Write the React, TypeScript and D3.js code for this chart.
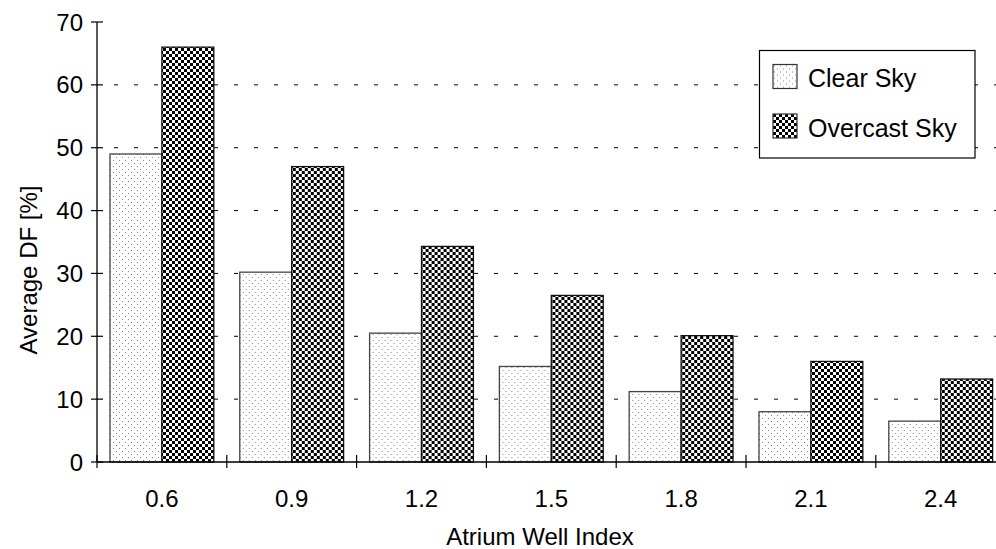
import React from "react";
import * as d3 from "d3";

// Average daylight factor by atrium well index, clear vs overcast sky
const categories = ["0.6", "0.9", "1.2", "1.5", "1.8", "2.1", "2.4"];
const clearSky = [49.0, 30.2, 20.5, 15.2, 11.2, 8.0, 6.5];
const overcastSky = [66.0, 47.0, 34.3, 26.5, 20.1, 16.0, 13.2];
const yTicks = [0, 10, 20, 30, 40, 50, 60, 70];
const gridTicks = [10, 20, 30, 40, 50, 60];
const seriesNames = ["Clear Sky", "Overcast Sky"];

const W = 996;
const H = 549;
const FONT = "'Liberation Sans', Arial, Helvetica, sans-serif";

export default function App() {
  const left = 97;
  const top = 22;
  const bottom = 462;
  const right = 1005.6;

  const x = d3.scaleBand<string>().domain(categories).range([left, right]).paddingInner(0).paddingOuter(0);
  const bw = x.bandwidth();
  const inner = d3.scaleBand<string>().domain(seriesNames).range([0, bw]).paddingInner(0).paddingOuter(0.25);
  const y = d3.scaleLinear().domain([0, 70]).range([bottom, top]);

  const fills = ["url(#dots)", "url(#checker)"];
  const series = [clearSky, overcastSky];
  const boundaries = d3.range(categories.length + 1).map((i) => left + i * bw);

  return (
    <svg
      width={W}
      height={H}
      style={{ position: "absolute", left: 0, top: 0, background: "#fff" }}
      fontFamily={FONT}
    >
      <defs>
        <pattern id="dots" width={6} height={6} patternUnits="userSpaceOnUse">
          <rect width={6} height={6} fill="#fff" />
          <rect x={1} y={1} width={1} height={1} fill="#888" />
          <rect x={4} y={4} width={1} height={1} fill="#888" />
        </pattern>
        <pattern id="checker" width={6} height={6} patternUnits="userSpaceOnUse">
          <rect width={6} height={6} fill="#fff" />
          <rect x={0} y={0} width={3} height={3} fill="#000" />
          <rect x={3} y={3} width={3} height={3} fill="#000" />
        </pattern>
      </defs>

      {/* dashed gridlines */}
      {gridTicks.map((t) => (
        <line
          key={"g" + t}
          x1={left}
          x2={W}
          y1={y(t)}
          y2={y(t)}
          stroke="#000"
          strokeWidth={1}
          strokeDasharray="4 16"
          strokeDashoffset={-17}
        />
      ))}

      {/* bars */}
      {categories.map((c, i) => (
        <g key={c} transform={`translate(${x(c)},0)`}>
          {series.map((s, k) => (
            <rect
              key={k}
              x={inner(seriesNames[k])}
              y={y(s[i])}
              width={inner.bandwidth()}
              height={bottom - y(s[i])}
              fill={fills[k]}
              stroke={k === 0 ? "#444" : "#111"}
              strokeWidth={1.3}
            />
          ))}
        </g>
      ))}

      {/* y axis */}
      <line x1={left} x2={left} y1={top} y2={bottom} stroke="#000" strokeWidth={1.3} />
      {yTicks.map((t) => (
        <g key={"y" + t}>
          <line x1={left - 6} x2={left + 6} y1={y(t)} y2={y(t)} stroke="#000" strokeWidth={1.2} />
          <text x={83} y={y(t)} dy="0.36em" textAnchor="end" fontSize={24} fill="#000">
            {t}
          </text>
        </g>
      ))}

      {/* x axis */}
      <line x1={left} x2={W} y1={bottom} y2={bottom} stroke="#000" strokeWidth={1.3} />
      {boundaries.map((bx, i) => (
        <line key={"xt" + i} x1={bx} x2={bx} y1={bottom - 7} y2={bottom + 6} stroke="#000" strokeWidth={1.2} />
      ))}
      {categories.map((c) => (
        <text key={"xl" + c} x={(x(c) as number) + bw / 2} y={507} textAnchor="middle" fontSize={24} fill="#000">
          {c}
        </text>
      ))}

      {/* axis titles */}
      <text x={540} y={545} textAnchor="middle" fontSize={24} fill="#000">
        Atrium Well Index
      </text>
      <text transform={`translate(37,270) rotate(-90)`} textAnchor="middle" fontSize={24} fill="#000">
        Average DF [%]
      </text>

      {/* legend */}
      <g>
        <rect x={759.5} y={50.5} width={215.5} height={107.5} fill="#fff" stroke="#000" strokeWidth={1.2} />
        {seriesNames.map((n, k) => (
          <g key={n} transform={`translate(773,${64.5 + k * 49.5})`}>
            <rect width={24} height={24} fill={fills[k]} stroke="#333" strokeWidth={1.2} />
            <text x={35} y={22.5} fontSize={25} fill="#000">
              {n}
            </text>
          </g>
        ))}
      </g>
    </svg>
  );
}
